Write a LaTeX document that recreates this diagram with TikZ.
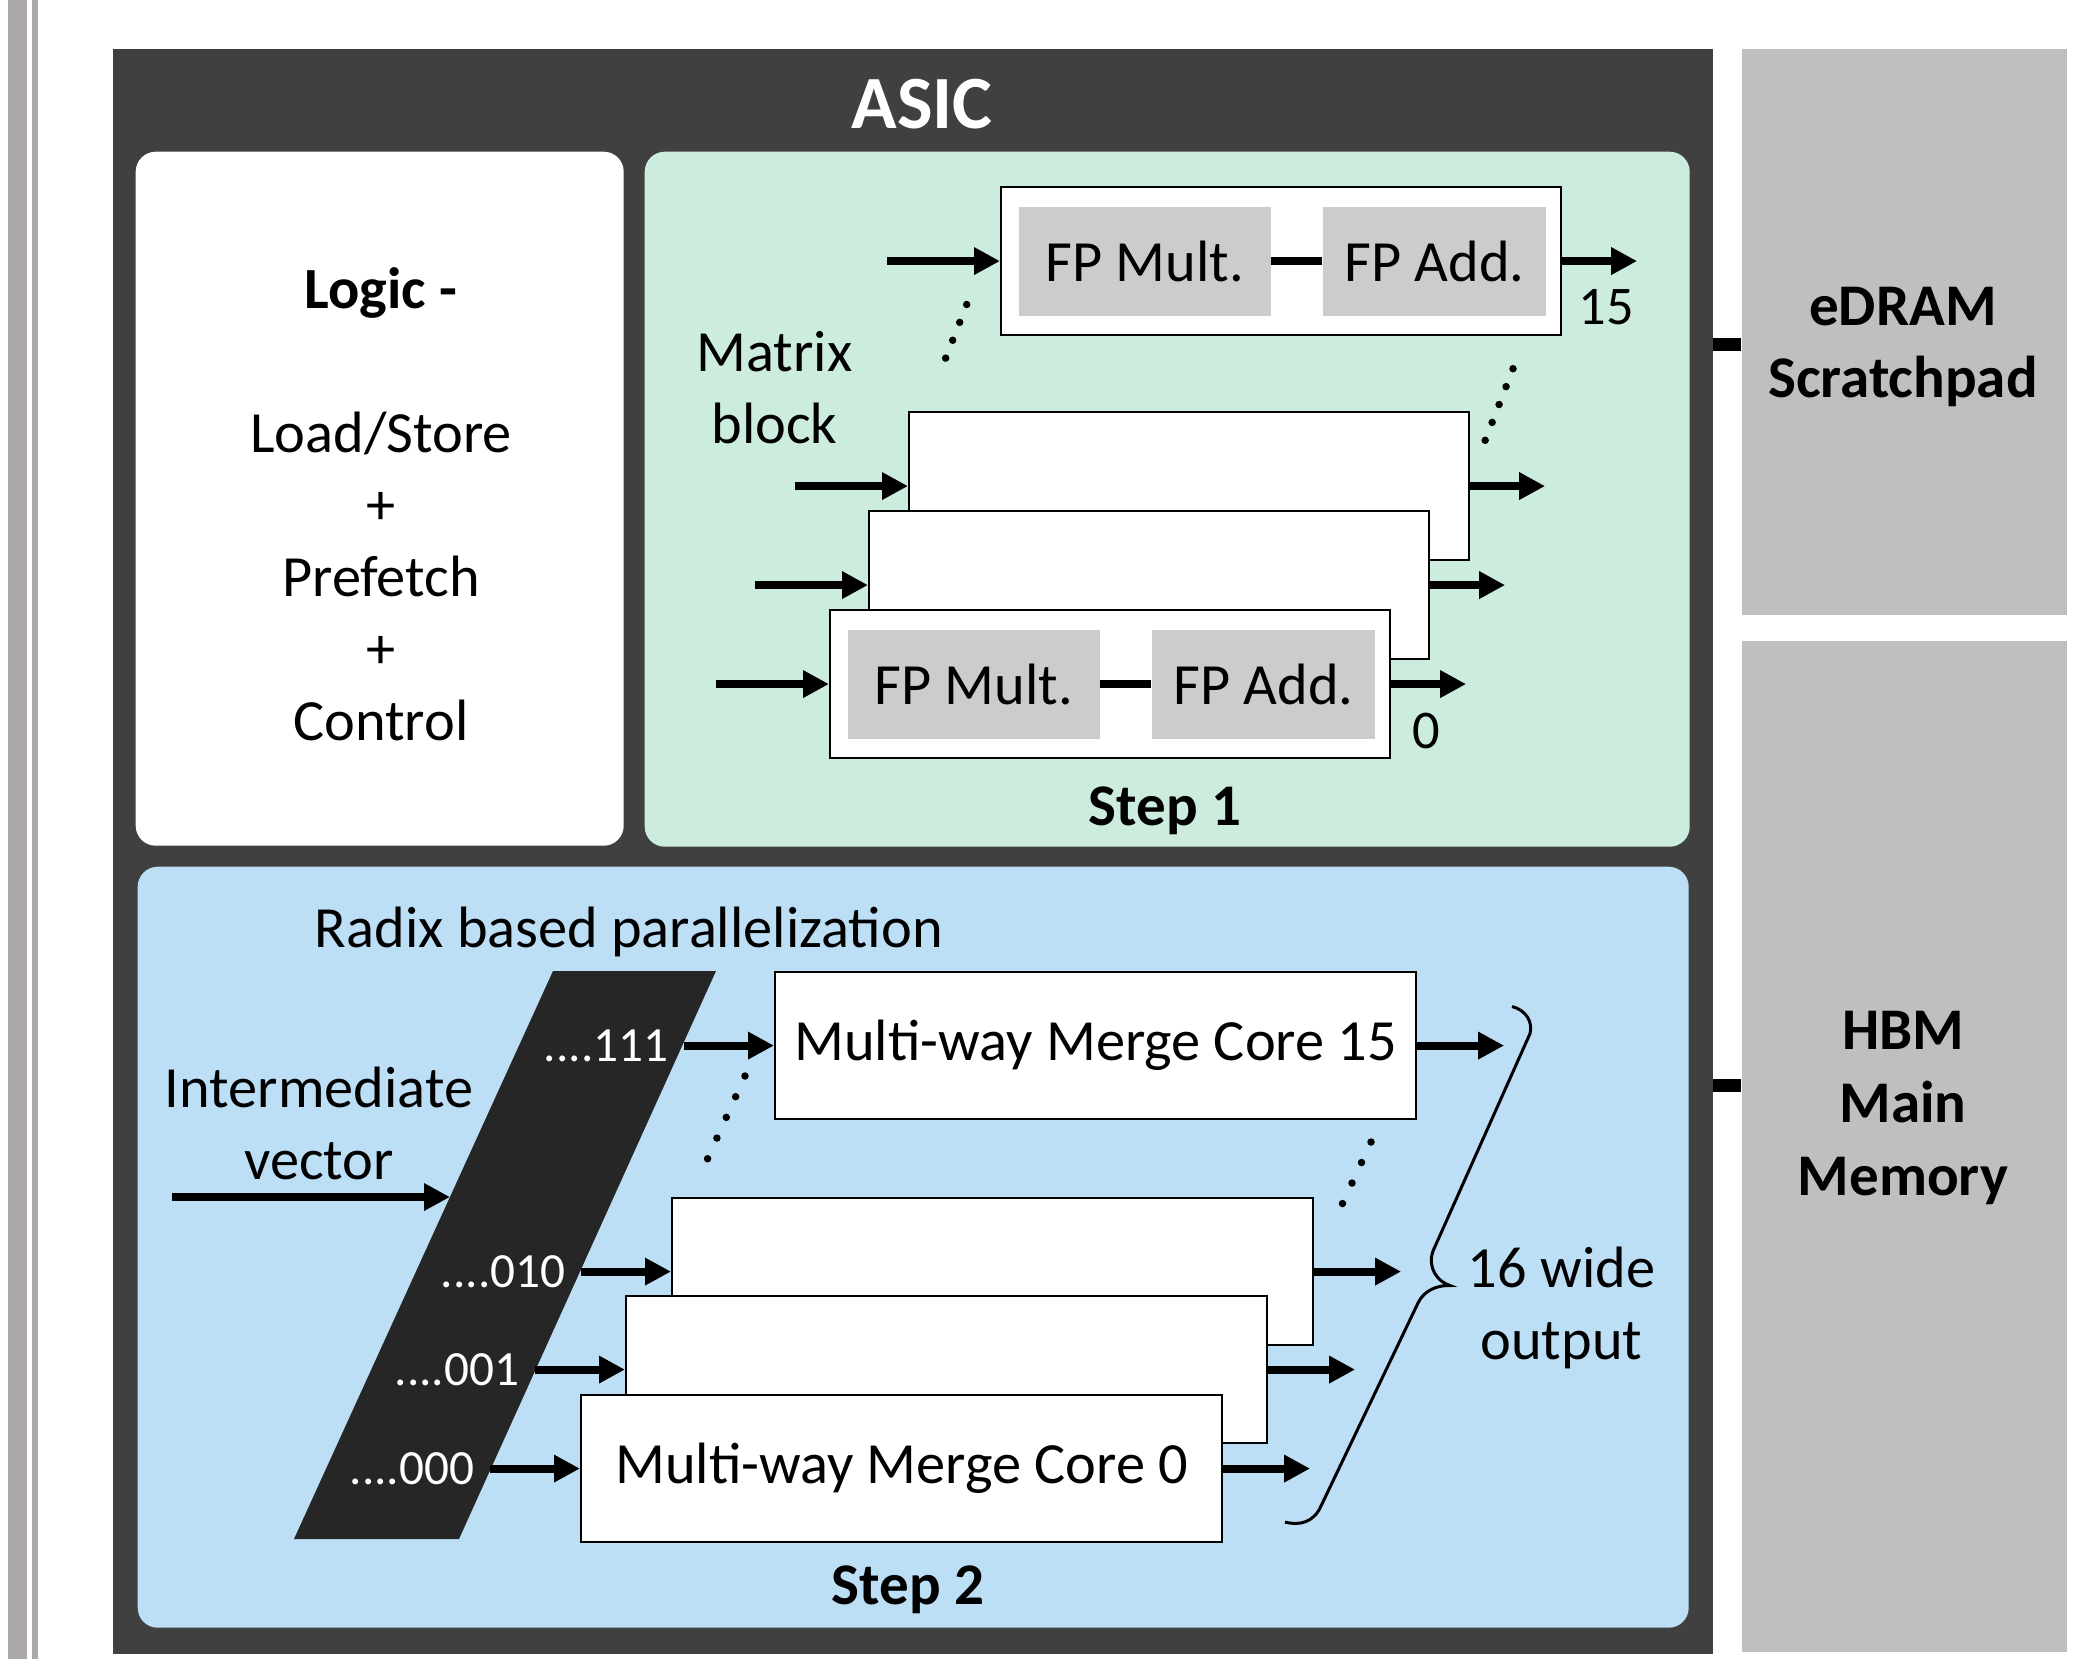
\documentclass[tikz,border=0pt]{standalone}
\usepackage{fontspec}
\setmainfont{Carlito}
\usetikzlibrary{arrows.meta,positioning,calc}

\definecolor{asicgray}{RGB}{64,64,64}
\definecolor{stepgreen}{RGB}{204,236,222}
\definecolor{stepblue}{RGB}{189,223,246}
\definecolor{memgray}{RGB}{191,191,191}
\definecolor{unitgray}{RGB}{204,204,204}
\definecolor{radixblack}{RGB}{38,38,38}
\definecolor{bargray}{RGB}{172,168,168}

\begin{document}
\begin{tikzpicture}[>={Triangle[length=2.6mm,width=2.6mm]},
   font=\fontsize{16.6}{20.5}\selectfont,
   arr/.style={->,line width=0.8mm},
   boldtxt/.style={font=\fontsize{16.8}{20.7}\selectfont\bfseries},
   panel/.style={rounded corners=2mm,anchor=north west,inner sep=0pt},
   mem/.style={fill=memgray,anchor=north west,inner sep=0pt,minimum width=3.25cm},
   fpbox/.style={draw,fill=white,line width=0.6pt,anchor=north west,
     minimum width=5.6cm,minimum height=1.48cm,inner sep=0pt},
   unit/.style={fill=unitgray,minimum height=1.09cm,inner sep=0pt},
   core/.style={draw,fill=white,line width=0.6pt,anchor=north west,
     minimum width=6.41cm,minimum height=1.47cm,inner sep=0pt},
   radix/.style={text=white,font=\fontsize{14}{17}\selectfont,anchor=east,inner sep=0pt},
   ellip/.style={line width=0.75mm,line cap=round,dash pattern=on 0pt off 1.92mm}]
  \useasboundingbox (0,0) rectangle (20.75,-16.59);
  \fill[white] (0,0) rectangle (20.75,-16.59);
  \fill[bargray] (0.08,0) rectangle (0.27,-16.59);
  \fill[bargray] (0.32,0) rectangle (0.375,-16.59);

  % chip and memories
  \node[fill=asicgray,anchor=north west,inner sep=0pt,minimum width=16cm,
    minimum height=16.05cm] (asic) at (1.12,-0.48) {};
  \node[text=white,font=\fontsize{21.4}{25}\selectfont\bfseries] (asictitle) at (9.22,-1.04) {ASIC};
  \node[mem,minimum height=5.66cm] (edram) at (17.41,-0.48) {};
  \node[mem,minimum height=10.11cm] (hbm) at (17.41,-6.40) {};
  \node[boldtxt,align=center] (edramtxt) at (19.03,-3.47) {eDRAM\\Scratchpad};
  \node[boldtxt,align=center] (hbmtxt) at (19.03,-11.08) {HBM\\Main\\Memory};
  \draw[line width=1.3mm] ([yshift=-1.3mm]edram.west) -- ([yshift=-1.3mm]edram.west -| asic.east);
  \draw[line width=1.3mm] ([yshift=6.05mm]hbm.west) -- ([yshift=6.05mm]hbm.west -| asic.east);

  % logic
  \node[panel,fill=white,minimum width=4.88cm,minimum height=6.94cm] (logic) at (1.35,-1.51) {};
  \node[align=center] (logictxt) at (3.81,-5.04)
    {\textbf{Logic -}\\[20.5pt]Load/Store\\+\\Prefetch\\+\\Control};

  % step 1
  \node[panel,fill=stepgreen,minimum width=10.45cm,minimum height=6.95cm] (step1) at (6.44,-1.51) {};
  \node[fpbox] (b15) at (10.00,-1.86) {};
  \node[unit,minimum width=2.52cm,anchor=west] (m15) at ([xshift=1.8mm]b15.west) {FP Mult.};
  \node[unit,minimum width=2.23cm,right=5.1mm of m15] (a15) {FP Add.};
  \draw[line width=0.8mm] (m15) -- (a15);
  \draw[arr] ([xshift=-11.3mm]b15.west) -- (b15.west);
  \draw[arr] (b15.east) -- ([xshift=7.5mm]b15.east);
  \foreach \n/\x/\y in {b2/9.08/-4.11, b1/8.68/-5.10, b0/8.29/-6.09} {
    \node[fpbox] (\n) at (\x,\y) {};
    \draw[arr] ([xshift=-11.3mm]\n.west) -- (\n.west);
    \draw[arr] (\n.east) -- ([xshift=7.5mm]\n.east);
  }
  \node[unit,minimum width=2.52cm,anchor=west] (m0) at ([xshift=1.8mm]b0.west) {FP Mult.};
  \node[unit,minimum width=2.23cm,right=5.1mm of m0] (a0) {FP Add.};
  \draw[line width=0.8mm] (m0) -- (a0);
  \node[font=\fontsize{15.5}{18}\selectfont] (n15) at ([xshift=4.4mm,yshift=2.9mm]b15.south east) {15};
  \node[font=\fontsize{15.5}{18}\selectfont] (n0) at ([xshift=3.5mm,yshift=2.8mm]b0.south east) {0};
  \draw[ellip] (9.667,-3.045) -- (9.388,-3.756);
  \draw[ellip] (15.13,-3.687) -- (14.85,-4.408);
  \node[align=center] (mtx) at (7.745,-3.88) {Matrix\\block};
  \node[boldtxt] (s1) at (11.65,-8.11) {Step 1};

  % step 2
  \node[panel,fill=stepblue,minimum width=15.51cm,minimum height=7.61cm] (step2) at (1.37,-8.66) {};
  \node (radixtxt) at (6.29,-9.32) {Radix based parallelization};
  \fill[radixblack] (2.94,-15.39) -- (4.59,-15.39) -- (7.16,-9.71) -- (5.53,-9.71) -- cycle;
  \node[align=center] (ivtxt) at (3.19,-11.23) {Intermediate\\vector};
  \coordinate (ivin) at (1.72,-11.97);
  \coordinate (ivout) at (4.50,-11.97);
  \draw[arr] (ivin) -- (ivout);
  \node[core] (c15) at (7.74,-9.71) {Multi-way Merge Core 15};
  \node[core] (c2) at (6.71,-11.97) {};
  \node[core] (c1) at (6.25,-12.95) {};
  \node[core] (c0) at (5.80,-13.94) {Multi-way Merge Core 0};
  \foreach \c/\r in {c15/111, c2/010, c1/001, c0/000} {
    \node[radix] (r\r) at ([xshift=-10.5mm]\c.west) {....\r};
    \draw[arr] ([xshift=-9mm]\c.west) -- (\c.west);
    \draw[arr] (\c.east) -- ([xshift=8.7mm]\c.east);
  }
  \draw[ellip,dash pattern=on 0pt off 2.27mm] (7.45,-10.76) -- (7.07,-11.60);
  \draw[ellip,dash pattern=on 0pt off 2.26mm] (13.71,-11.42) -- (13.33,-12.24);
  \draw[line width=0.3mm] (15.12,-10.065) .. controls (15.26,-10.10) and (15.33,-10.22) .. (15.30,-10.336)
    -- (14.33,-12.51) .. controls (14.27,-12.68) and (14.38,-12.82) .. (14.50,-12.855)
    .. controls (14.38,-12.85) and (14.24,-12.90) .. (14.18,-13.03)
    -- (13.21,-15.06) .. controls (13.14,-15.22) and (13.00,-15.26) .. (12.85,-15.22);
  \node[align=center] (wide) at (15.615,-13.08) {16 wide\\output};
  \node[boldtxt] (s2) at (9.08,-15.90) {Step 2};
\end{tikzpicture}
\end{document}
